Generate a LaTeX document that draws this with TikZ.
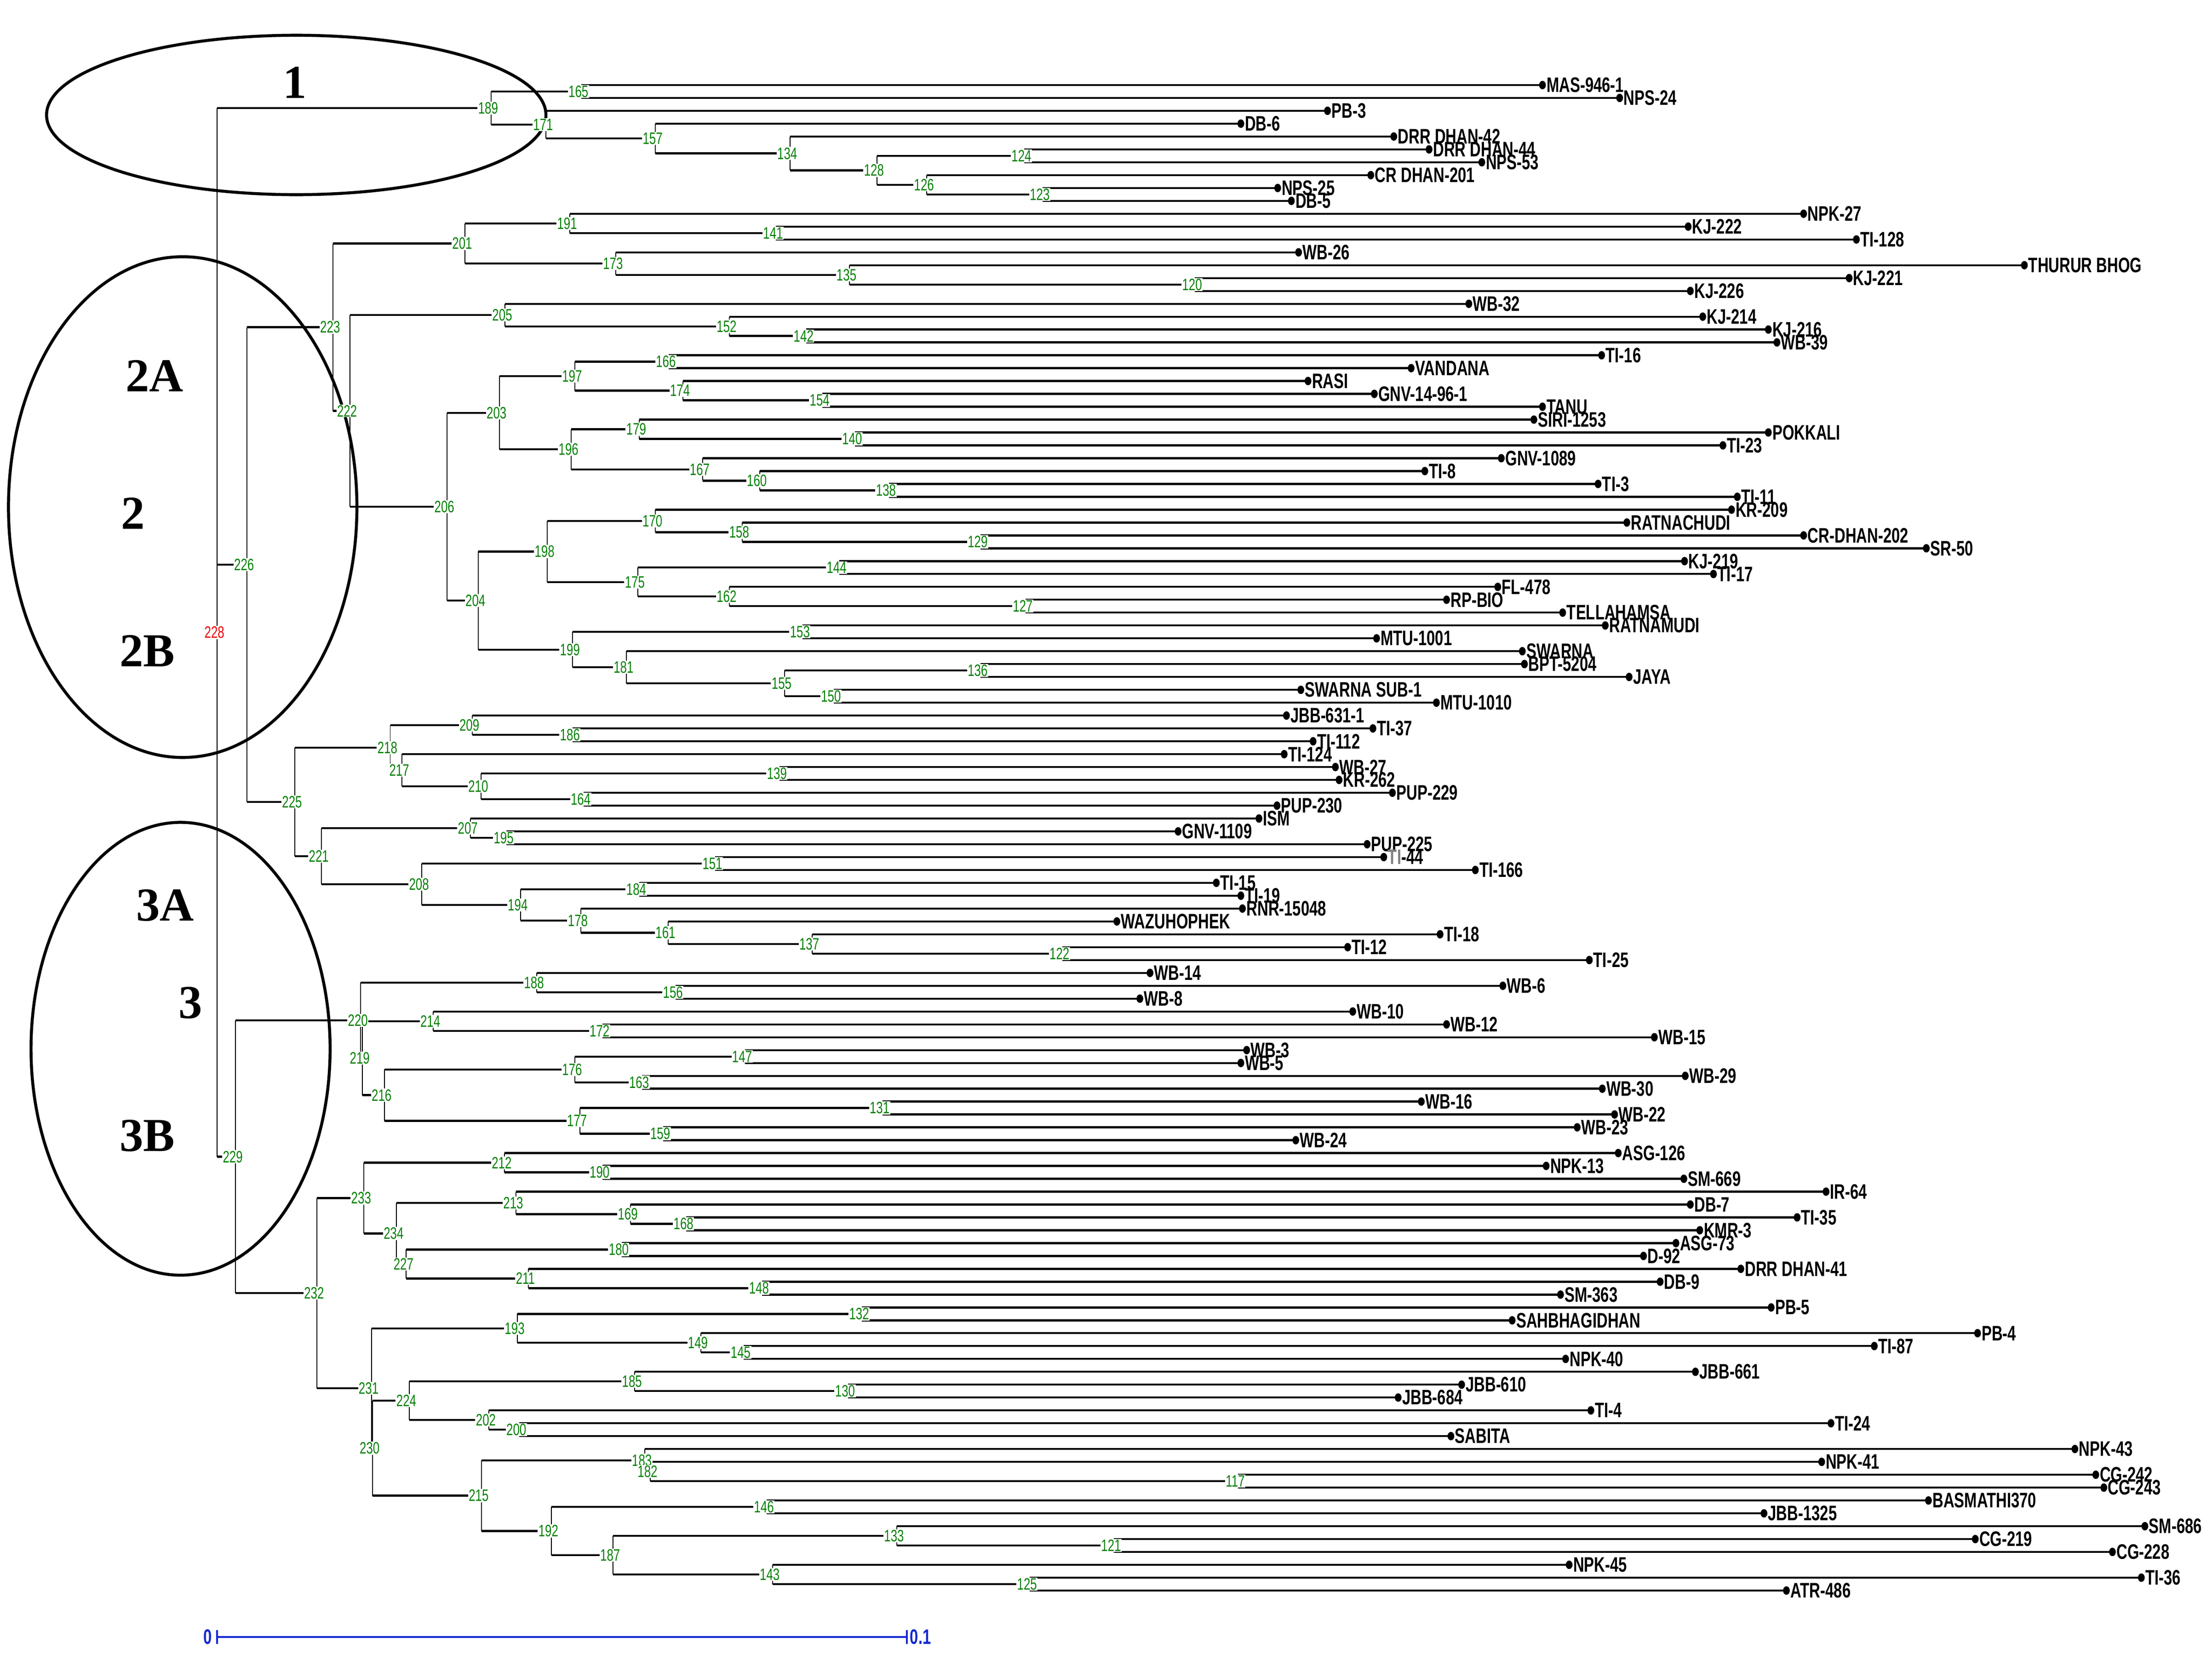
\documentclass[tikz,border=0pt]{standalone}
\usepackage{fontspec}
\setmainfont{Liberation Serif}
\newfontfamily\narrowsans[FakeStretch=0.72]{Liberation Sans}
\usetikzlibrary{calc}
\definecolor{numgreen}{RGB}{0,128,0}
\definecolor{rootred}{RGB}{235,0,0}
\definecolor{barblue}{RGB}{20,40,210}
\tikzset{
  hline/.style={line width=1.2pt},
  vline/.style={line width=0.55pt},
  leaf/.style={anchor=west, inner sep=0pt, font=\narrowsans\bfseries\fontsize{12.7}{13}\selectfont},
  num/.style={text=numgreen, fill=white, inner sep=0.4pt, font=\narrowsans\fontsize{10}{10}\selectfont},
  clus/.style={line width=1.8pt},
  cluslab/.style={inner sep=0pt, font=\bfseries\fontsize{28.6}{30}\selectfont},
  bar/.style={barblue, line width=1.1pt},
  barlab/.style={text=barblue, inner sep=0pt, font=\narrowsans\bfseries\fontsize{12.7}{13}\selectfont}
}
% internal node: name, x, upper child, lower child
\newcommand{\inode}[4]{%
  \coordinate (n#1) at ($(#3)!.5!(#4)$);
  \coordinate (n#1) at (#2,0 |- n#1);
  \draw[vline] (n#1 |- #3) -- (n#1 |- #4);
  \draw[hline] (n#1 |- #3) -- (#3) (n#1 |- #4) -- (#4);
}
\begin{document}
\begin{tikzpicture}[x=0.03cm, y=-0.03cm]
\useasboundingbox (0,0) rectangle (1568,1188.56);
%Leaves
\foreach \x/\txt [count=\i] in {1093.4/MAS-946-1, 1148.1/NPS-24, 941/PB-3, 879.6/DB-6,
  988/DRR DHAN-42, 1013/DRR DHAN-44, 1050.4/NPS-53, 971.7/CR DHAN-201, 905.7/NPS-25,
  915.4/DB-5, 1278.5/NPK-27, 1196.7/KJ-222, 1315.9/TI-128, 920.5/WB-26,
  1435/THURUR BHOG, 1310.8/KJ-221, 1198.2/KJ-226, 1041.2/WB-32, 1207/KJ-214,
  1253.5/KJ-216, 1259.6/WB-39, 1135.3/TI-16, 1000.3/VANDANA, 927.2/RASI,
  974.2/GNV-14-96-1, 1093.4/TANU, 1087.3/SIRI-1253, 1253.5/POKKALI, 1221.3/TI-23,
  1064.2/GNV-1089, 1010/TI-8, 1132.8/TI-3, 1231.5/TI-11, 1227.4/KR-209,
  1153.2/RATNACHUDI, 1278.5/CR-DHAN-202, 1365.5/SR-50, 1194.1/KJ-219, 1214.6/TI-17,
  1061.7/FL-478, 1025.4/RP-BIO, 1107.7/TELLAHAMSA, 1137.9/RATNAMUDI, 975.8/MTU-1001,
  1079.1/SWARNA, 1080.6/BPT-5204, 1154.8/JAYA, 922.1/SWARNA SUB-1, 1018.2/MTU-1010,
  911.9/JBB-631-1, 973.2/TI-37, 930.8/TI-112, 910.3/TI-124, 946.6/WB-27, 949.2/KR-262,
  987/PUP-229, 905.2/PUP-230, 892.4/ISM, 835.1/GNV-1109, 969.1/PUP-225,
  980.9/\textcolor{gray}{TI}-44, 1045.8/TI-166, 862.2/TI-15, 879.6/TI-19,
  880.7/RNR-15048, 791.7/WAZUHOPHEK, 1020.8/TI-18, 955.3/TI-12, 1126.6/TI-25,
  815.2/WB-14, 1065.3/WB-6, 808/WB-8, 958.9/WB-10, 1025.4/WB-12, 1172.7/WB-15,
  883.7/WB-3, 879.6/WB-5, 1194.6/WB-29, 1135.8/WB-30, 1007.5/WB-16, 1144.5/WB-22,
  1118/WB-23, 918.5/WB-24, 1147.1/ASG-126, 1096/NPK-13, 1193.6/SM-669, 1294.4/IR-64,
  1198.2/DB-7, 1273.9/TI-35, 1204.9/KMR-3, 1188/ASG-73, 1165/D-92, 1234/DRR DHAN-41,
  1176.8/DB-9, 1106.2/SM-363, 1255.5/PB-5, 1071.9/SAHBHAGIDHAN, 1401.8/PB-4,
  1328.6/TI-87, 1109.8/NPK-40, 1201.8/JBB-661, 1036.1/JBB-610, 991.1/JBB-684,
  1127.7/TI-4, 1297.9/TI-24, 1028.5/SABITA, 1470.8/NPK-43, 1291.3/NPK-41,
  1485.6/CG-242, 1491.3/CG-243, 1367/BASMATHI370, 1250.4/JBB-1325, 1520.4/SM-686,
  1400.2/CG-219, 1497.4/CG-228, 1112.3/NPK-45, 1517.9/TI-36, 1266.3/ATR-486}{
  \coordinate (l\i) at (\x, {60.3+(\i-1)*9.122});
  \fill (l\i) ellipse [x radius=2.4, y radius=3];
  \node[leaf] (t\i) at ([xshift=0.08cm]l\i) {\txt};
}
%Cluster 1
\inode{165}{412}{l1}{l2}
\inode{123}{739}{l9}{l10}
\inode{126}{657}{l8}{n123}
\inode{124}{726}{l6}{l7}
\inode{128}{621.5}{n124}{n126}
\inode{134}{560}{l5}{n128}
\inode{157}{464.6}{l4}{n134}
\inode{171}{387}{l3}{n157}
\inode{189}{348}{n165}{n171}
%Cluster 2A
\inode{141}{550}{l12}{l13}
\inode{191}{404}{l11}{n141}
\inode{120}{847}{l16}{l17}
\inode{135}{602}{l15}{n120}
\inode{173}{436.5}{l14}{n135}
\inode{201}{329.6}{n191}{n173}
\inode{142}{571.6}{l20}{l21}
\inode{152}{517}{l19}{n142}
\inode{205}{358}{l18}{n152}
\inode{166}{474}{l22}{l23}
\inode{154}{583}{l25}{l26}
\inode{174}{484}{l24}{n154}
\inode{197}{407.5}{n166}{n174}
\inode{140}{606}{l28}{l29}
\inode{179}{453}{l27}{n140}
\inode{138}{630}{l32}{l33}
\inode{160}{538.5}{l31}{n138}
\inode{167}{498}{l30}{n160}
\inode{196}{405}{n179}{n167}
\inode{203}{354}{n197}{n196}
\inode{129}{695}{l36}{l37}
\inode{158}{526}{l35}{n129}
\inode{170}{464.5}{l34}{n158}
\inode{144}{595}{l38}{l39}
\inode{127}{727}{l41}{l42}
\inode{162}{517}{l40}{n127}
\inode{175}{452}{n144}{n162}
\inode{198}{388}{n170}{n175}
\inode{153}{569}{l43}{l44}
\inode{136}{695}{l46}{l47}
\inode{150}{591}{l48}{l49}
\inode{155}{556}{n136}{n150}
\inode{181}{444}{l45}{n155}
\inode{199}{406}{n153}{n181}
\inode{204}{339}{n198}{n199}
\inode{206}{317}{n203}{n204}
\inode{222}{248}{n205}{n206}
\inode{223}{236}{n201}{n222}
%Cluster 2B
\inode{186}{406}{l51}{l52}
\inode{209}{334.7}{l50}{n186}
\inode{139}{552.7}{l54}{l55}
\inode{164}{413.6}{l56}{l57}
\inode{210}{341}{n139}{n164}
\inode{217}{285}{l53}{n210}
\inode{218}{276.6}{n209}{n217}
\inode{195}{359}{l59}{l60}
\inode{207}{333.6}{l58}{n195}
\inode{151}{507}{l61}{l62}
\inode{184}{453}{l63}{l64}
\inode{122}{753}{l68}{l69}
\inode{137}{575.6}{l67}{n122}
\inode{161}{473.7}{l66}{n137}
\inode{178}{411.6}{l65}{n161}
\inode{194}{369}{n184}{n178}
\inode{208}{299}{n151}{n194}
\inode{221}{228}{n207}{n208}
\inode{225}{209}{n218}{n221}
\inode{226}{175}{n223}{n225}
%Cluster 3A
\inode{156}{479}{l71}{l72}
\inode{188}{380.5}{l70}{n156}
\inode{172}{427}{l74}{l75}
\inode{214}{307}{l73}{n172}
\inode{147}{528}{l76}{l77}
\inode{163}{455}{l78}{l79}
\inode{176}{407.5}{n147}{n163}
\inode{131}{625.5}{l80}{l81}
\inode{159}{470}{l82}{l83}
\inode{177}{411}{n131}{n159}
\inode{216}{272.5}{n176}{n177}
\inode{219}{257}{n214}{n216}
\inode{220}{255.7}{n188}{n219}
%Cluster 3B
\inode{190}{427}{l85}{l86}
\inode{212}{357.6}{l84}{n190}
\inode{168}{486.5}{l89}{l90}
\inode{169}{447}{l88}{n168}
\inode{213}{365.8}{l87}{n169}
\inode{180}{440.6}{l91}{l92}
\inode{148}{540}{l94}{l95}
\inode{211}{374.4}{l93}{n148}
\inode{227}{288}{n180}{n211}
\inode{234}{281}{n213}{n227}
\inode{233}{258}{n212}{n234}
\inode{132}{611}{l96}{l97}
\inode{145}{527}{l99}{l100}
\inode{149}{496.7}{l98}{n145}
\inode{193}{366.8}{n132}{n149}
\inode{130}{601}{l102}{l103}
\inode{185}{450}{l101}{n130}
\inode{200}{368}{l105}{l106}
\inode{202}{346.4}{l104}{n200}
\inode{224}{290}{n185}{n202}
\inode{117}{877.6}{l109}{l110}
\inode{182}{461}{l108}{n117}
\inode{183}{457}{l107}{n182}
\inode{146}{543.5}{l111}{l112}
\inode{121}{789.6}{l114}{l115}
\inode{133}{635.7}{l113}{n121}
\inode{125}{730}{l117}{l118}
\inode{143}{547.6}{l116}{n125}
\inode{187}{434.5}{n133}{n143}
\inode{192}{390.7}{n146}{n187}
\inode{215}{341.3}{n183}{n192}
\inode{230}{264}{n224}{n215}
\inode{231}{263.3}{n193}{n230}
\inode{232}{224.6}{n233}{n231}
\inode{229}{167}{n220}{n232}
%Root
\coordinate (n228) at ($(n189)!.5!(n229)$);
\coordinate (n228) at (154,0 |- n228);
\draw[vline] (n228 |- n189) -- (n228 |- n229);
\draw[hline] (n228 |- n189) -- (n189) (n228 |- n226) -- (n226) (n228 |- n229) -- (n229);
%Clusters
\draw[clus] (210,81.5) ellipse [x radius=177, y radius=56.5];
\draw[clus] (129.5,359.5) ellipse [x radius=123.5, y radius=177.5];
\draw[clus] (128,743.5) ellipse [x radius=106, y radius=160.5];
\node[cluslab] (c1) at (209,58.7) {1};
\node[cluslab] (c2a) at (109.5,266.4) {2A};
\node[cluslab] (c2) at (94.2,364.1) {2};
\node[cluslab] (c2b) at (104.4,461.6) {2B};
\node[cluslab] (c3a) at (117,641.8) {3A};
\node[cluslab] (c3) at (135,710.9) {3};
\node[cluslab] (c3b) at (104.4,805.1) {3B};
%Node numbers
\foreach \n in {165,171,157,134,128,124,126,123,189,
  201,191,141,173,135,120,205,152,142,222,223,206,203,197,166,174,154,196,179,140,
  167,160,138,204,198,170,158,129,175,144,162,127,199,153,181,155,136,150,226,
  225,218,209,186,217,210,139,164,221,207,195,208,151,194,184,178,161,137,122,
  229,220,188,156,219,214,172,216,176,147,163,177,131,159,
  232,233,212,190,234,213,169,168,227,180,211,148,231,193,132,149,145,230,224,185,
  130,202,200,215,183,182,117,192,146,187,133,121,143,125}
  \node[num] (m\n) at ([xshift=-0.06cm]n\n) {\n};
\node[num, text=rootred] (m228) at ([xshift=-0.06cm]n228) {228};
%Scale
\coordinate (s0) at (153.8,1160.5);
\coordinate (s1) at (642.8,1160.5);
\draw[bar] (s0) -- (s1);
\draw[bar] ([yshift=0.15cm]s0) -- ([yshift=-0.15cm]s0);
\draw[bar] ([yshift=0.15cm]s1) -- ([yshift=-0.15cm]s1);
\node[barlab, anchor=east] (z0) at ([xshift=-0.1cm]s0) {0};
\node[barlab, anchor=west] (z1) at ([xshift=0.06cm]s1) {0.1};
\end{tikzpicture}
\end{document}
